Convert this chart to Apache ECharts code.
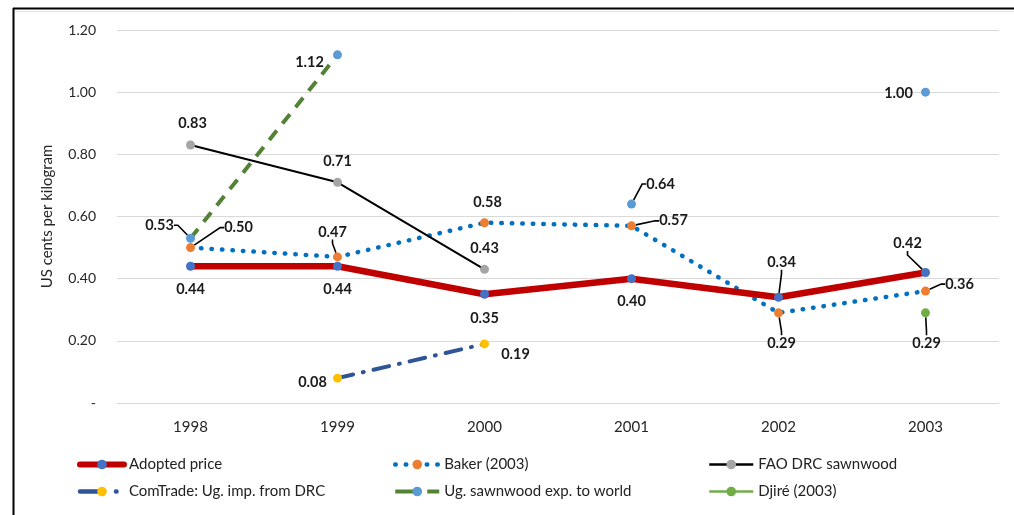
<!DOCTYPE html>
<html>
<head>
<meta charset="utf-8">
<script src="https://cdn.jsdelivr.net/npm/echarts@6/dist/echarts.min.js"></script>
<style>
  html, body { margin: 0; padding: 0; background: #ffffff; }
  #chart { width: 1014px; height: 515px; }
</style>
</head>
<body>
<div id="chart"></div>
<script>
// Sawnwood price series, US cents per kilogram
const years = ['1998', '1999', '2000', '2001', '2002', '2003'];
const adoptedPrice      = [0.44, 0.44, 0.35, 0.40, 0.34, 0.42];
const baker2003         = [0.50, 0.47, 0.58, 0.57, 0.29, 0.36];
const faoDrcSawnwood    = [0.83, 0.71, 0.43, null, null, null];
const comTradeImports   = [null, 0.08, 0.19, null, null, null];
const ugSawnwoodExports = [0.53, 1.12, null, 0.64, null, 1.00];
const djire2003         = [null, null, null, null, null, 0.29];
const yTickLabels = ['-', '0.20', '0.40', '0.60', '0.80', '1.00', '1.20'];

const FONT = 'Lato, "Liberation Sans", sans-serif';

// Label placement relative to each point: [dx, dy, showLeaderLine]
const labelPlacement = {
  'Adopted price': [[0, 23, false], [0, 23, false], [0, 24, false], [0, 23, false], [3, -35, true], [-18, -29, true]],
  'Baker (2003)': [[48, -20, true], [-5, -25, true], [3, -20, false], [42, -5, true], [3, 30, true], [34, -7, true]],
  'FAO DRC sawnwood': [[2, -22, false], [0, -21, false], [0, -21, false], null, null, null],
  'ComTrade: Ug. imp. from DRC': [null, [-25, 4, false], [31, 10, false], null, null, null],
  'Ug. sawnwood exp. to world': [[-31, -13, true], [-28, 7, false], null, [29, -20, true], null, [-27, 1, false]],
  'Djiré (2003)': [null, null, null, null, null, [1, 30, true]]
};

function withLabels(name, values) {
  return values.map((v, i) => {
    if (v == null) return null;
    const p = labelPlacement[name][i];
    return { value: v, labelLine: { show: !!(p && p[2]) } };
  });
}

function lineSeries(name, values, lineStyle, markerColor, z) {
  return {
    name: name,
    type: 'line',
    data: withLabels(name, values),
    z: z,
    symbol: 'circle',
    symbolSize: 9,
    showSymbol: true,
    connectNulls: false,
    lineStyle: lineStyle,
    itemStyle: { color: markerColor, borderWidth: 0 },
    label: {
      show: true,
      position: 'inside',
      formatter: p => p.value.toFixed(2),
      fontFamily: FONT,
      fontSize: 14.5,
      fontWeight: 'bold',
      color: '#1a1a1a'
    },
    labelLine: {
      show: false,
      length2: 4,
      lineStyle: { color: '#000000', width: 1.6 }
    },
    labelLayout: params => {
      const p = labelPlacement[name][params.dataIndex];
      return p ? { dx: p[0], dy: p[1] } : {};
    },
    emphasis: { disabled: true },
    animation: false
  };
}

const series = [
  lineSeries('Baker (2003)', baker2003,
    { color: '#0070C0', width: 4.5, type: [0.5, 10], cap: 'round' }, '#ED7D31', 3),
  lineSeries('Adopted price', adoptedPrice,
    { color: '#C00000', width: 6.5, type: 'solid', cap: 'round', join: 'round' }, '#4472C4', 4),
  lineSeries('FAO DRC sawnwood', faoDrcSawnwood,
    { color: '#000000', width: 2, type: 'solid' }, '#A5A5A5', 3),
  lineSeries('ComTrade: Ug. imp. from DRC', comTradeImports,
    { color: '#2F5597', width: 4, type: [16, 10, 1, 10], cap: 'round' }, '#FFC000', 3),
  lineSeries('Ug. sawnwood exp. to world', ugSawnwoodExports,
    { color: '#548235', width: 4, type: [12, 9], cap: 'butt' }, '#5B9BD5', 5),
  lineSeries('Djiré (2003)', djire2003,
    { color: '#70AD47', width: 2.5, type: 'solid' }, '#70AD47', 5)
];

// Legend swatches drawn a little heavier so each pattern reads at small size
const legendLine = {
  'Adopted price': { width: 6, type: 'solid', cap: 'round' },
  'ComTrade: Ug. imp. from DRC': { width: 4.5, type: [19, 17, 0.5, 100], cap: 'round' },
  'Baker (2003)': { width: 4.5, type: [0.5, 10], cap: 'round' },
  'Ug. sawnwood exp. to world': { width: 4, type: [19, 13, 14, 100], cap: 'butt' },
  'FAO DRC sawnwood': { width: 2.5, type: 'solid' },
  'Djiré (2003)': { width: 2.5, type: 'solid' }
};

const legendBase = {
  orient: 'vertical',
  top: 452,
  itemWidth: 44,
  itemHeight: 12,
  itemGap: 12,
  selectedMode: false,
  textStyle: { fontFamily: FONT, fontSize: 15, color: '#222222' }
};

function legendAt(left, names) {
  return Object.assign({}, legendBase, {
    left: left,
    data: names.map(n => ({ name: n, lineStyle: legendLine[n] }))
  });
}

const chart = echarts.init(document.getElementById('chart'), null, { renderer: 'canvas' });
chart.setOption({
  backgroundColor: '#ffffff',
  animation: false,
  grid: { left: 117, right: 15, top: 30, bottom: 112, containLabel: false },
  legend: [
    legendAt(72, ['Adopted price', 'ComTrade: Ug. imp. from DRC']),
    legendAt(388, ['Baker (2003)', 'Ug. sawnwood exp. to world']),
    legendAt(703, ['FAO DRC sawnwood', 'Djiré (2003)'])
  ],
  xAxis: {
    type: 'category',
    data: years,
    boundaryGap: true,
    axisLine: { show: true, lineStyle: { color: '#d9d9d9', width: 1 } },
    axisTick: { show: false },
    axisLabel: { margin: 17, fontFamily: FONT, fontSize: 15, color: '#262626' },
    splitLine: { show: false }
  },
  yAxis: {
    type: 'value',
    min: 0,
    max: 1.2,
    interval: 0.2,
    name: 'US cents per kilogram',
    nameLocation: 'middle',
    nameGap: 62,
    nameTextStyle: { fontFamily: FONT, fontSize: 15, color: '#262626' },
    axisLine: { show: false },
    axisTick: { show: false },
    axisLabel: {
      margin: 21,
      fontFamily: FONT,
      fontSize: 14,
      color: '#262626',
      formatter: v => yTickLabels[Math.round(v / 0.2)]
    },
    splitLine: { show: true, lineStyle: { color: '#d9d9d9', width: 1 } }
  },
  graphic: [
    // outer frame
    { type: 'line', silent: true, z: 100, shape: { x1: 13, y1: 8.5, x2: 1014, y2: 8.5 }, style: { stroke: '#000', lineWidth: 2 } },
    { type: 'line', silent: true, z: 100, shape: { x1: 13.5, y1: 8, x2: 13.5, y2: 515 }, style: { stroke: '#000', lineWidth: 2 } },
    { type: 'line', silent: true, z: 99, shape: { x1: 15, y1: 11.5, x2: 1014, y2: 11.5 }, style: { stroke: '#e3e3e3', lineWidth: 1 } }
  ],
  series: series
});
</script>
</body>
</html>
